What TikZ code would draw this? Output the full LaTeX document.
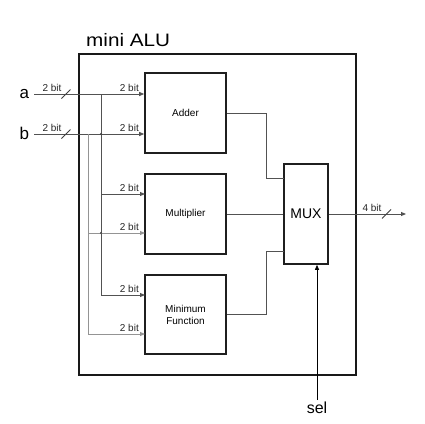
\documentclass[tikz,border=0pt]{standalone}
\usepackage{fontspec}
\usepackage{graphicx}
\setmainfont{Liberation Sans}
\usetikzlibrary{arrows.meta,calc}
\begin{document}
\begin{tikzpicture}[x=1pt,y=-1pt,
  outerbox/.style={draw=black!90, line width=1.8pt, minimum width=277pt, minimum height=321pt, inner sep=0pt},
  blk/.style={draw=black!88, line width=1.6pt, minimum width=81pt, minimum height=80pt, inner sep=0pt, align=center, font=\fontsize{10}{12}\selectfont},
  wire/.style={draw=black!68, line width=0.9pt},
  bwire/.style={draw=black!42, line width=0.9pt},
  arr/.style={-{Triangle[length=5pt,width=4pt]}},
  bitlbl/.style={font=\fontsize{10}{12}\selectfont, inner sep=0pt, text=black!85},
  slash/.style={draw=black!75, line width=0.9pt},
  hop/.style={fill=black!75, circle, inner sep=0pt, minimum size=2.4pt}
]
\useasboundingbox (0,0) rectangle (425,423);

% boxes
\node[outerbox] (alu) at (217.5,214.5) {};
\node[blk] (adder) at (185.5,113) {Adder};
\node[blk] (mult) at (185.5,214) {Multiplier};
\node[blk, minimum height=79pt] (minf) at (185.5,314.5) {Minimum\\Function};
\node[draw=black!88, line width=1.6pt, minimum width=44pt, minimum height=100pt, inner sep=0pt, font=\fontsize{14}{16}\selectfont] (mux) at (306,214) {MUX};

% title and input labels
\node[anchor=base west, inner sep=0pt, font=\fontsize{18}{20}\selectfont] (title) at (86,46) {\scalebox{1.15}[1]{mini ALU}};
\node[anchor=base west, inner sep=0pt, font=\fontsize{17}{20}\selectfont] (la) at (19.5,98) {a};
\node[anchor=base west, inner sep=0pt, font=\fontsize{17}{20}\selectfont] (lb) at (19.5,139) {b};

% coordinates
\coordinate (ain) at (34,94);
\coordinate (bin) at (34,134);
\coordinate (aj) at (101,94);
\coordinate (bj) at (88,134);
\coordinate (m1) at (145,194);
\coordinate (m2) at (145,233);
\coordinate (n1) at (145,295);
\coordinate (n2) at (145,334);
\coordinate (k1) at (284,178);
\coordinate (k2) at (284,251);
\coordinate (out) at (406,214);
\coordinate (selc) at (317,400);

% input wires
\draw[wire,arr] (ain) -- (ain -| adder.west);
\draw[wire,arr] (bin) -- (bin -| adder.west);
\draw[wire,arr] (aj) |- (m1);
\draw[wire,arr] (aj) |- (n1);
\draw[bwire,arr] (bj) |- (m2);
\draw[bwire,arr] (bj) |- (n2);
\node[hop] (x1) at (bin -| aj) {};
\node[hop] (x2) at (m2 -| aj) {};

% bus slashes and labels on inputs
\draw[slash] ($(ain)+(27.5,4.5)$) -- ++(9,-9);
\draw[slash] ($(bin)+(27.5,4.5)$) -- ++(9,-9);
\node[bitlbl, anchor=base] (ta) at ($(ain)+(18,-3)$) {2 bit};
\node[bitlbl, anchor=base] (tb) at ($(bin)+(18,-3)$) {2 bit};
\node[bitlbl, anchor=base east] (t1) at (139,91) {2 bit};
\node[bitlbl, anchor=base east] (t2) at (139,131) {2 bit};
\node[bitlbl, anchor=base east] (t3) at (139,191) {2 bit};
\node[bitlbl, anchor=base east] (t4) at (139,230) {2 bit};
\node[bitlbl, anchor=base east] (t5) at (139,292) {2 bit};
\node[bitlbl, anchor=base east] (t6) at (139,331) {2 bit};

% outputs to mux
\draw[wire] (adder.east) -- ++(40,0) |- (k1);
\draw[wire] (mult.east) -- (mux.west);
\draw[wire] (minf.east) -- ++(40,0) |- (k2);

% mux output
\draw[wire,arr] (mux.east) -- (out);
\draw[slash] (382,218.5) -- ++(9,-9);
\node[bitlbl, anchor=base] (t7) at (372,211) {4 bit};

% select
\draw[black, line width=0.9pt, arr] (selc) -- (selc |- mux.south);
\node[anchor=base, inner sep=0pt, font=\fontsize{16}{18}\selectfont] (sellbl) at (317,413) {sel};
\end{tikzpicture}
\end{document}
